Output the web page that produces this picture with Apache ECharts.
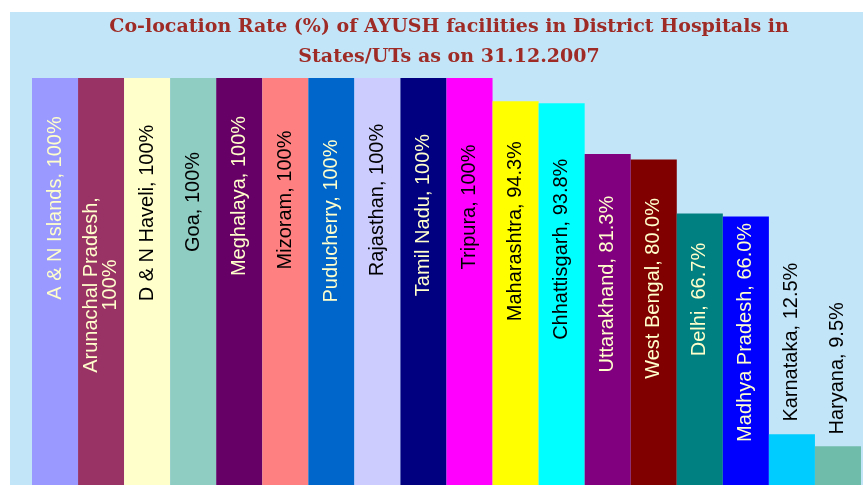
<!DOCTYPE html>
<html>
<head>
<meta charset="utf-8">
<script src="https://cdn.jsdelivr.net/npm/echarts@6/dist/echarts.min.js"></script>
<style>
    html, body { margin: 0; padding: 0; background: #ffffff; }
    #chart {
        position: absolute;
        left: 10px;
        top: 12px;
        width: 853px;
        height: 473px;
    }
</style>
</head>
<body>
<div id="chart"></div>
<script>
// states / UTs and their co-location rate (%)
const states = [
    'A & N Islands', 'Arunachal Pradesh', 'D & N Haveli', 'Goa', 'Meghalaya',
    'Mizoram', 'Puducherry', 'Rajasthan', 'Tamil Nadu', 'Tripura',
    'Maharashtra', 'Chhattisgarh', 'Uttarakhand', 'West Bengal', 'Delhi',
    'Madhya Pradesh', 'Karnataka', 'Haryana'
]
const rates = [100, 100, 100, 100, 100, 100, 100, 100, 100, 100, 94.3, 93.8, 81.3, 80.0, 66.7, 66.0, 12.5, 9.5]

const barColors = [
    '#9999ff', '#993366', '#ffffcc', '#8fccc2', '#660066',
    '#ff8080', '#0066cc', '#ccccff', '#000080', '#ff00ff',
    '#ffff00', '#00ffff', '#800080', '#800000', '#008080',
    '#0000ff', '#00ccff', '#70bcab'
]
// true = cream text, false = black text
const lightText = [true, true, false, false, true, false, true, false, true, false,
    false, false, true, true, true, true, false, false]
// label centre, px below the top of its bar (negative = above bar)
const labelShift = [130, 207, 135, 124, 118, 122, 143, 122, 137, 129,
    130, 146, 130, 129, 86, 116, -92, -78]

const titleLines = [
    'Co-location Rate (%) of AYUSH facilities in District Hospitals in',
    'States/UTs as on 31.12.2007'
]

function fmt(v) {
    return v === 100 ? '100' : v.toFixed(1)
}

const chart = echarts.init(document.getElementById('chart'))

const option = {
    animation: false,
    backgroundColor: '#c3e5f8',
    graphic: titleLines.map((t, i) => ({
        type: 'text',
        x: 439,
        y: 15 + i * 30,
        style: {
            text: t,
            fill: '#9e2b25',
            font: 'bold 19px "DejaVu Serif", serif',
            textAlign: 'center',
            textVerticalAlign: 'middle'
        }
    })),
    grid: { left: 22, right: 2, top: 66, bottom: -2 },
    xAxis: {
        type: 'category',
        data: states,
        show: false
    },
    yAxis: {
        type: 'value',
        min: 0,
        max: 100,
        show: false
    },
    series: [
        {
            type: 'bar',
            barCategoryGap: 0,
            data: rates.map((v, i) => ({
                value: v,
                itemStyle: { color: barColors[i] },
                label: {
                    show: true,
                    position: ['50%', labelShift[i]],
                    rotate: 90,
                    align: 'center',
                    verticalAlign: 'middle',
                    color: lightText[i] ? '#ffffcc' : '#000000',
                    fontFamily: '"Liberation Sans", Arial, sans-serif',
                    fontSize: 20,
                    lineHeight: 19,
                    formatter: i === 1
                        ? states[i] + ',\n' + fmt(v) + '%'
                        : states[i] + ', ' + fmt(v) + '%'
                }
            }))
        }
    ]
}

chart.setOption(option)
</script>
</body>
</html>
